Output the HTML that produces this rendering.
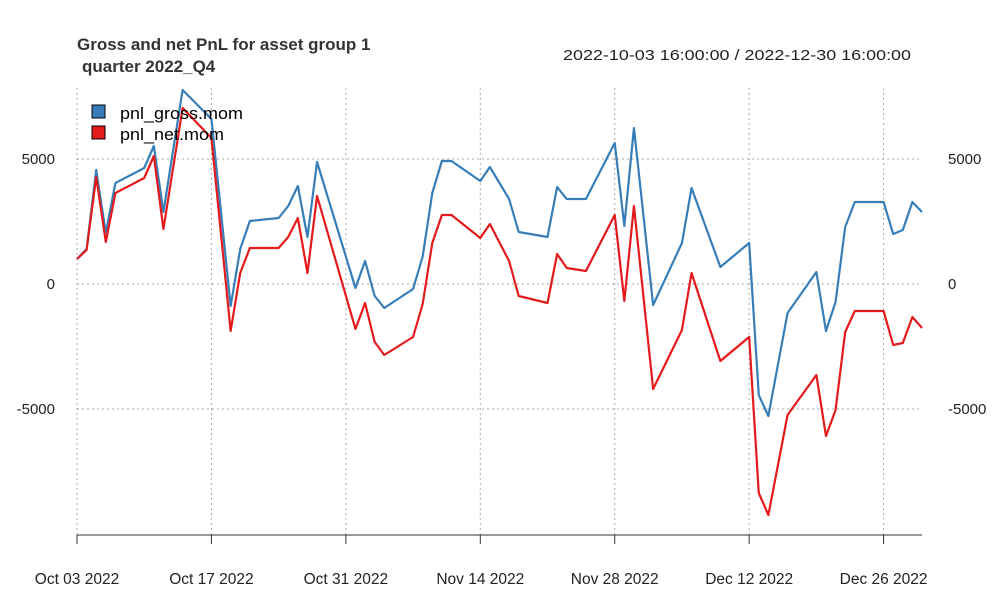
<!DOCTYPE html>
<html><head><meta charset="utf-8"><style>
body{margin:0;background:#fff;}
svg text{font-family:"Liberation Sans",Arial,sans-serif;}
</style></head><body>
<svg id="chart" width="1000" height="600" xmlns="http://www.w3.org/2000/svg">
<text x="77" y="50" font-size="17" font-weight="bold" fill="#333">Gross and net PnL for asset group 1</text>
<text x="82" y="72" font-size="17" font-weight="bold" fill="#333">quarter 2022_Q4</text>
<text x="911" y="60" font-size="15" text-anchor="end" fill="#222" textLength="348" lengthAdjust="spacingAndGlyphs">2022-10-03 16:00:00 / 2022-12-30 16:00:00</text>
<g id="grid"></g>
<g id="axes"></g>
<g id="series"></g>
<g>
<rect x="92" y="105" width="13" height="13" fill="#377eb8" stroke="#000" stroke-width="1"/>
<text x="120" y="119" font-size="17" fill="#000" textLength="123" lengthAdjust="spacingAndGlyphs">pnl_gross.mom</text>
<rect x="92" y="126" width="13" height="13" fill="#e41a1c" stroke="#000" stroke-width="1"/>
<text x="120" y="140" font-size="17" fill="#000" textLength="104" lengthAdjust="spacingAndGlyphs">pnl_net.mom</text>
</g>
</svg>
<script>
const days = [0,1,2,3,4,7,8,9,11,14,16,17,18,21,22,23,24,25,29,30,31,32,35,36,37,38,39,42,43,45,46,49,50,51,53,56,57,58,60,63,64,67,70,71,72,74,77,78,79,80,81,84,85,86,87,88];
const grossVals = [1000,1400,4560,2040,4040,4640,5520,2880,7760,6600,-880,1400,2520,2640,3120,3920,1880,4880,-160,920,-480,-960,-200,1100,3640,4920,4920,4120,4680,3400,2080,1880,3880,3400,3400,5640,2320,6240,-840,1640,3840,680,1640,-4440,-5280,-1160,480,-1880,-720,2280,3280,3280,2000,2160,3280,2880];
const netVals = [1000,1360,4280,1680,3640,4240,5120,2200,7040,5840,-1880,440,1440,1440,1880,2640,440,3520,-1800,-760,-2320,-2840,-2120,-800,1640,2760,2760,1840,2400,920,-480,-760,1200,640,520,2760,-680,3120,-4200,-1840,440,-3080,-2120,-8360,-9240,-5240,-3640,-6080,-5040,-1920,-1080,-1080,-2440,-2360,-1320,-1760];
const xTickDays = [0,14,28,42,56,70,84];
const xTickLabels = ["Oct 03 2022","Oct 17 2022","Oct 31 2022","Nov 14 2022","Nov 28 2022","Dec 12 2022","Dec 26 2022"];
const yTicks = [5000,0,-5000];

const NS="http://www.w3.org/2000/svg";
const x = d => 77 + d*(845/88);
const y = v => 284 - v*0.025;
function mk(tag, attrs, parent){const e=document.createElementNS(NS,tag);for(const k in attrs)e.setAttribute(k,attrs[k]);parent.appendChild(e);return e;}
const grid=document.getElementById('grid'), axes=document.getElementById('axes'), series=document.getElementById('series');
yTicks.forEach(v=>{
  const l=mk('line',{x1:77,x2:922,y1:y(v),y2:y(v),stroke:'#aaa','stroke-dasharray':'2,3'},grid);
  
  
  const t1=mk('text',{x:55,y:y(v)+5,'font-size':15,'text-anchor':'end',fill:'#222'},axes);t1.textContent=v;
  
  
  const t2=mk('text',{x:948,y:y(v)+5,'font-size':15,'text-anchor':'start',fill:'#222'},axes);t2.textContent=v;
  
  
});
xTickDays.forEach((d,i)=>{
  const l=mk('line',{x1:x(d),x2:x(d),y1:88,y2:535,stroke:'#aaa','stroke-dasharray':'2,3'},grid);
  
  
  const tk=mk('line',{x1:x(d),x2:x(d),y1:535,y2:544,stroke:'#333'},axes);
  
  
  const t=mk('text',{x:x(d),y:584,'font-size':15.5,'text-anchor':'middle',fill:'#222'},axes);t.textContent=xTickLabels[i];
  
  
});
const ax=mk('line',{x1:77,x2:922,y1:535,y2:535,stroke:'#333'},axes);


function line(vals,color,name){
  const p=mk('polyline',{points:days.map((d,i)=>x(d)+','+y(vals[i])).join(' '),fill:'none',stroke:color,'stroke-width':2.2,'stroke-linejoin':'round'},series);
  
  
}
line(grossVals,'#377eb8','line-pnl-gross');
line(netVals,'#e41a1c','line-pnl-net');
</script>
</body></html>
